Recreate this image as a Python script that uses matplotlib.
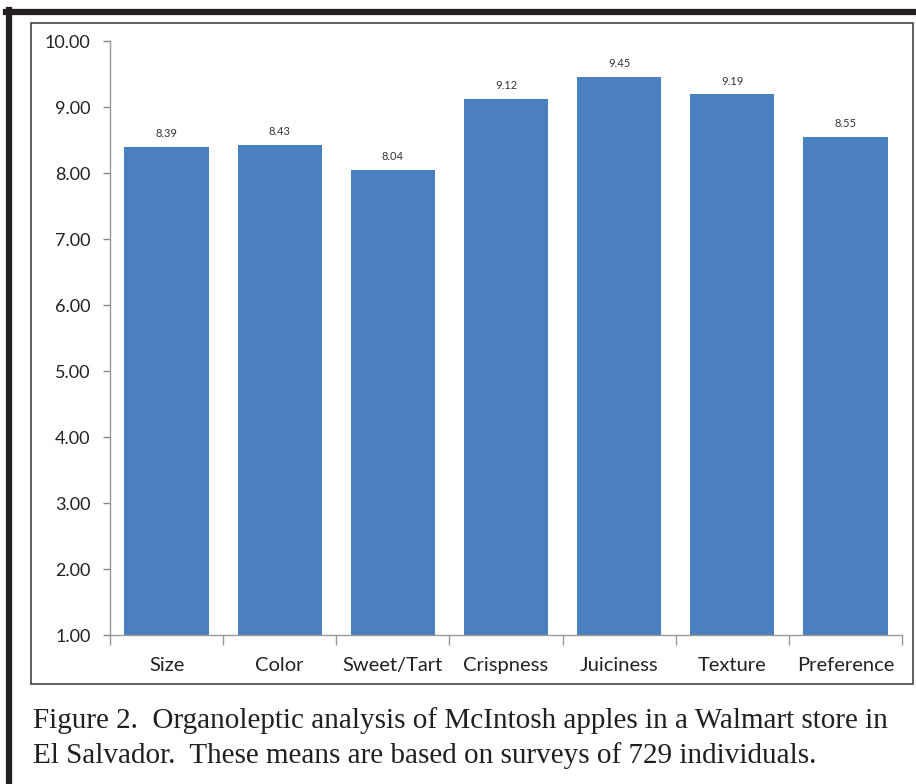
import matplotlib
matplotlib.use("Agg")
import matplotlib.pyplot as plt
from matplotlib.patches import Rectangle
from matplotlib.lines import Line2D

categories = ["Size", "Color", "Sweet/Tart", "Crispness", "Juiciness", "Texture", "Preference"]
values = [8.39, 8.43, 8.04, 9.12, 9.45, 9.19, 8.55]
yticks = [1.0, 2.0, 3.0, 4.0, 5.0, 6.0, 7.0, 8.0, 9.0, 10.0]
caption_lines = ["Figure 2.  Organoleptic analysis of McIntosh apples in a Walmart store in",
                 "El Salvador.  These means are based on surveys of 729 individuals."]

W, H = 916, 784
fig = plt.figure(figsize=(W / 100, H / 100), dpi=100)

def fx(x): return x / W
def fy(y): return 1 - y / H

# thick outer frame (top and left)
fig.add_artist(Line2D([fx(6), fx(916)], [fy(12), fy(12)], color="#231f20", lw=4.5))
fig.add_artist(Line2D([fx(9), fx(9)], [fy(10), fy(784)], color="#231f20", lw=4.5))
# inner chart box
fig.add_artist(Rectangle((fx(31), fy(684)), fx(913) - fx(31), fy(23) - fy(684),
                         fill=False, edgecolor="#444444", lw=1.2))

ax = fig.add_axes([fx(110), fy(635), fx(902) - fx(110), fy(41) - fy(635)])
x = list(range(len(categories)))
ax.bar(x, values, width=0.745, color="#4a80bf", bottom=0, zorder=2)
ax.set_ylim(1, 10)
ax.set_xlim(-0.5, len(categories) - 0.5)
ax.set_yticks(yticks)
ax.set_yticklabels([f"{v:.2f}" for v in yticks], fontsize=13, family="Lato", color="#222222")
ax.set_xticks(x)
ax.set_xticklabels(categories, fontsize=14.5, family="Lato", color="#222222")
ax.tick_params(axis="x", length=0, pad=16)
ax.tick_params(axis="y", length=5, color="#888888", width=1, pad=9)
ax.set_xticks([i - 0.5 for i in range(len(categories) + 1)], minor=True)
ax.tick_params(axis="x", which="minor", length=7, color="#999999", width=1)
for s in ["top", "right"]:
    ax.spines[s].set_visible(False)
for s in ["left", "bottom"]:
    ax.spines[s].set_color("#999999")
    ax.spines[s].set_linewidth(1)
for xi, v in zip(x, values):
    ax.text(xi, v + 0.12, f"{v:.2f}", ha="center", va="bottom", fontsize=8,
            family="Lato", color="#333333")

for i, line in enumerate(caption_lines):
    fig.text(fx(33), fy(728 + 35 * i), line, ha="left", va="baseline", fontsize=21,
             family="Liberation Serif", color="#231f20")

fig.savefig("out.png", dpi=100)
